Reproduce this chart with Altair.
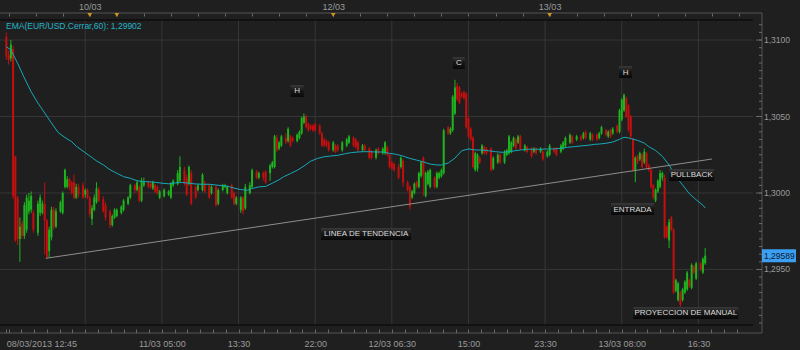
import altair as alt
import pandas as pd

# ---------------- data (EUR/USD, 15-minute slots; prices in pips above 1.2900) ----------------
BASE = 1.2900
PIP = 0.0001

slot = [0,1,2,3,4,5,6,7,8,9,10,11,12,14,15,16,17,18,19,20,
        21,22,24,25,26,27,28,29,30,31,32,34,35,36,37,38,39,40,41,43,
        44,46,47,48,49,51,52,54,55,57,58,59,60,61,63,64,65,66,67,68,
        70,72,73,74,76,77,79,80,81,82,84,85,87,88,90,91,93,94,96,97,
        98,100,101,102,104,105,106,108,109,111,112,114,115,117,118,119,120,121,122,124,
        125,126,127,129,130,131,132,133,134,135,136,137,139,140,141,142,143,145,146,147,
        149,151,152,154,155,156,158,159,161,162,164,165,167,168,169,170,171,172,174,175,
        176,178,179,180,181,182,183,184,185,186,187,188,190,191,192,193,194,196,197,198,
        199,200,201,202,203,204,205,206,207,208,209,210,211,212,213,215,216,218,219,221,
        222,223,224,225,226,227,228,230,231,233,234,235,237,238,240,241,243,244,246,247,
        248,250,251,253,255,256,257,259,260,262,263,264,266,267,268,269,271,272,273,274,
        275,276,277,278,279,280,281,282,283,284,285,286,287,288,289,290,291,292,293,294,
        295,296,297,298,299,300,301,302,303,304,305,306,308,309,310]

open_pips = [202,190,188,194,124,97,70,80,72,76,88,89,87,74,87,87,93,82,62,71,
             89,78,88,87,104,104,109,107,107,97,104,105,99,102,97,83,89,94,102,96,
             92,88,79,84,85,87,89,93,97,105,102,104,95,105,107,106,103,105,104,97,
             98,99,97,105,106,108,115,110,106,113,104,102,102,106,105,100,104,93,102,104,
             100,105,100,93,89,97,90,100,104,114,110,113,114,113,117,117,136,129,131,136,
             134,137,136,134,136,139,146,150,145,144,144,145,144,139,135,134,133,128,131,131,
             128,131,133,136,135,133,128,131,129,127,123,129,126,126,130,125,120,119,117,117,
             121,107,104,97,100,107,104,111,123,98,106,104,110,104,110,111,113,143,139,141,
             152,170,169,165,166,165,149,142,136,115,116,123,126,130,129,129,116,120,125,120,
             125,126,127,131,135,133,137,128,130,129,127,129,127,127,124,125,129,129,127,129,
             131,133,137,135,137,136,140,135,138,138,136,139,141,137,141,139,144,140,148,154,
             162,157,150,135,115,124,122,125,120,126,118,115,105,95,101,104,110,110,78,69,
             84,76,36,30,35,30,35,37,43,38,52,44,54,48,54]

high_pips = [205,193,200,196,124,98,84,82,94,99,100,101,89,95,99,95,107,83,78,91,
             91,90,95,101,116,111,110,108,112,106,106,107,103,103,98,92,99,107,104,98,
             94,89,86,90,90,92,96,98,106,106,108,105,110,110,108,107,108,106,105,102,
             103,102,107,109,115,124,117,112,118,115,105,106,113,108,106,105,105,103,106,106,
             105,106,101,98,98,98,106,107,116,115,114,114,115,119,121,138,138,134,138,139,
             143,138,137,139,141,150,152,151,146,145,145,146,145,140,136,135,134,134,132,132,
             134,136,138,137,136,134,132,132,130,128,129,130,130,134,131,126,121,120,119,124,
             122,108,105,102,107,108,114,121,124,114,115,116,111,114,114,116,142,144,143,164,
             174,172,170,166,167,166,150,143,137,127,126,124,132,131,130,130,124,126,126,128,
             129,138,134,137,136,138,138,132,131,130,130,130,130,128,128,132,130,130,132,134,
             137,139,138,138,138,140,141,140,139,139,140,144,142,141,142,143,145,155,162,165,
             163,158,151,136,124,125,127,126,129,127,119,116,106,103,109,115,114,112,79,83,
             85,77,44,42,36,38,43,49,44,54,53,55,55,58,64]

low_pips = [187,184,186,96,68,66,55,70,70,74,86,87,74,72,85,86,60,57,58,69,
            76,77,87,86,103,103,102,99,96,96,97,96,97,96,84,79,88,93,94,87,
            82,77,78,83,84,86,88,92,96,100,101,94,94,104,103,103,102,100,99,96,
            97,98,96,104,105,107,105,98,105,92,96,101,101,100,96,99,91,92,101,103,
            99,96,92,92,87,86,89,99,103,109,109,108,106,108,116,116,127,128,130,132,
            133,130,133,133,135,138,145,142,140,141,140,140,138,130,130,130,127,127,126,127,
            127,130,132,130,129,127,127,127,122,122,122,125,125,125,124,116,115,114,109,116,
            104,101,89,96,99,103,103,110,98,97,105,103,103,103,109,110,112,138,138,140,
            151,160,158,162,161,142,136,134,116,114,114,119,125,125,125,114,115,119,119,119,
            124,125,126,130,128,132,128,127,126,123,126,125,126,121,123,124,126,124,126,128,
            130,132,132,134,134,135,135,134,134,134,135,138,137,136,136,138,139,139,147,153,
            149,140,136,114,107,119,121,116,119,116,114,103,96,94,100,103,108,70,70,64,
            75,34,35,29,25,29,34,36,38,37,47,43,49,47,53]

close_pips = [189,187,197,98,69,70,78,72,92,97,95,98,76,93,97,93,82,58,76,89,
              78,88,94,100,115,109,104,100,97,104,99,97,102,97,86,90,97,103,95,88,
              84,79,85,89,89,91,95,97,105,102,107,95,108,107,104,104,107,101,100,101,
              102,101,106,108,113,117,106,99,117,93,97,105,112,101,97,104,92,102,105,105,
              104,97,93,97,97,88,104,105,115,110,113,110,107,118,120,137,128,133,137,133,
              142,131,134,138,140,149,150,143,141,142,141,141,139,131,131,131,128,133,127,128,
              133,135,137,131,130,128,131,128,123,123,128,126,129,133,125,117,116,115,110,123,
              107,102,91,101,106,104,113,120,112,113,114,115,104,113,113,115,141,139,142,163,
              169,161,159,163,162,143,137,135,117,126,125,120,131,126,126,115,123,125,120,127,
              128,137,133,136,129,137,129,131,127,124,129,126,129,122,127,131,127,125,131,133,
              136,138,133,137,135,139,136,139,135,135,139,143,138,140,137,142,140,154,161,164,
              150,141,137,115,123,120,126,117,127,117,115,104,97,102,108,113,113,71,71,81,
              76,35,43,41,27,37,42,48,39,53,48,54,50,57,59]

# EMA(60)
ema_slot = [0,2,5,8,11,14,17,20,23,26,29,31,34,37,40,43,46,49,52,55,58,61,64,66,69,72,75,78,81,84,
            87,90,93,96,99,101,104,107,109,112,115,118,121,123,126,129,132,135,138,141,144,147,150,153,156,158,
            161,164,167,170,173,176,179,182,185,188,191,193,196,199,202,205,208,211,214,217,220,223,226,228,
            231,234,237,240,243,246,249,252,255,258,261,263,266,269,272,274,276,280,283,285,288,291,294,297,
            300,303,306,309,310]
ema_pips = [195.6,193.5,184.8,175.2,166.2,158.8,152.3,145.8,139.5,136.3,133.5,130.6,127.4,124.2,121.0,118.4,115.2,112.9,110.7,109.6,
            108.0,107.4,107.3,107.0,106.4,106.0,106.6,106.9,106.4,105.9,105.7,105.7,105.2,104.8,104.1,103.2,102.2,101.8,102.9,104.0,
            104.3,106.4,108.7,110.6,112.7,114.8,117.6,120.8,122.6,123.7,124.2,124.6,125.6,126.4,126.8,127.0,127.0,126.8,126.8,125.9,
            125.3,124.1,122.6,121.5,120.3,118.9,118.3,118.3,119.6,122.8,127.6,128.8,128.1,128.1,127.6,127.0,126.6,127.0,127.7,128.1,
            128.6,128.6,128.6,128.8,128.8,129.2,129.9,130.3,130.8,131.2,131.8,132.0,132.5,133.3,135.1,136.4,136.0,134.4,132.6,130.3,
            127.8,124.0,118.3,110.7,105.2,99.5,95.6,92.0,90.2]
ema_last = 1.29902
last_price = 1.29589

# hand-drawn trend line
trend_slot = [17.5, 313.0]
trend_pips = [57.3, 122.2]

# time axis (bottom)
time_major_slot = [0, 35, 69, 103, 137, 171, 205, 239, 273, 307]
time_major_label = ["08/03/2013 12:45", "", "11/03 05:00", "13:30", "22:00", "12/03 06:30",
                    "15:00", "23:30", "13/03 08:00", "16:30"]
# day markers (top)
day_slot = [37, 49, 145, 241]
day_label = ["10/03", "", "12/03", "13/03"]
# price axis
price_levels = [1.2950, 1.3000, 1.3050, 1.3100]
price_minor = [round(1.2915 + 0.0005 * k, 4) for k in range(40)]

# annotations
annot_text = ["H", "C", "H", "LINEA DE TENDENCIA", "PULLBACK", "ENTRADA", "PROYECCION DE MANUAL"]
annot_slot = [129.0, 200.7, 274.7, 159.6, 304.0, 277.8, 301.4]
annot_price = [1.30667, 1.30850, 1.30791, 1.29732, 1.30118, 1.29895, 1.29216]

# ---------------- styles ----------------
BG = "#1f1f1f"
GRID = "#363636"
TICK = "#6a6a6a"
AXLINE = "#555555"
LABEL = "#9a9a9a"
GREEN = "#1fb41f"
RED = "#c30f0f"
EMA_C = "#17a9b8"
EMA_TXT = "#26b3c6"
TREND = "#8e8e8e"
GOLD = "#c8961e"
TAG = "#3c9ff2"
FONT = "Liberation Sans"
W, H = 753, 305
BOX_W = {"H": 13, "C": 12, "LINEA DE TENDENCIA": 90, "PULLBACK": 45, "ENTRADA": 43,
         "PROYECCION DE MANUAL": 105}


def to_price(p):
    return round(BASE + p * PIP, 5)


def comma(v, digits):
    return format(v, f".{digits}f").replace(".", ",")


candles = pd.DataFrame({
    "slot": slot,
    "open": [to_price(v) for v in open_pips],
    "high": [to_price(v) for v in high_pips],
    "low": [to_price(v) for v in low_pips],
    "close": [to_price(v) for v in close_pips],
})
candles["dir"] = ["up" if c >= o else "down" for o, c in zip(candles["open"], candles["close"])]

ema = pd.DataFrame({"slot": ema_slot, "price": [to_price(v) for v in ema_pips]})
trend = pd.DataFrame({"slot": trend_slot, "price": [to_price(v) for v in trend_pips]})

xs = alt.Scale(domain=[-0.6, 329.0], nice=False, zero=False)
ys = alt.Scale(domain=[1.29137, 1.31131], nice=False, zero=False)


def label_expr(values, labels):
    expr = "''"
    for v, lab in reversed(list(zip(values, labels))):
        expr = f"abs(datum.value - {v}) < 0.01 ? '{lab}' : {expr}"
    return expr


step = 34 / 6
bottom_vals = sorted(set([time_major_slot[0]] +
                         [round(35 + k * step, 3) for k in range(-6, 52)
                          if 0.5 <= 35 + k * step <= 328.5]))
top_vals = [1 + 12 * k for k in range(28)]

bottom_axis = alt.Axis(orient="bottom", values=bottom_vals,
                       labelExpr=label_expr(time_major_slot, time_major_label),
                       offset=4, tickSize=4, domain=False, grid=False, tickColor=TICK,
                       labelColor=LABEL, labelFont=FONT, labelFontSize=9, labelPadding=6,
                       labelOverlap=False,
                       labelAlign={"condition": {"test": "datum.value < 0.5", "value": "left"},
                                   "value": "center"})
top_axis = alt.Axis(orient="top", values=top_vals,
                    labelExpr=label_expr(day_slot, day_label),
                    offset=4, tickSize=3, domain=False, grid=False, tickColor=TICK,
                    labelColor=LABEL, labelFont=FONT, labelFontSize=9, labelPadding=2,
                    labelOverlap=False)


def X(axis=None):
    return alt.X("slot:Q", scale=xs, axis=axis, title=None)


def Y(field="price"):
    return alt.Y(f"{field}:Q", scale=ys, axis=None, title=None)


one = pd.DataFrame({"k": [0]})
layers = []

# grid
layers.append(alt.Chart(pd.DataFrame({"slot": time_major_slot[1:]})).mark_rule(
    color=GRID, strokeWidth=1).encode(x=X()))
layers.append(alt.Chart(pd.DataFrame({"price": price_levels})).mark_rule(
    color=GRID, strokeWidth=1).encode(y=Y()))

# panel borders and axis lines
layers.append(alt.Chart(one).mark_rule(color="#050505", strokeWidth=1.2).encode(
    x=alt.value(0), x2=alt.value(W), y=alt.value(0)))
layers.append(alt.Chart(one).mark_rule(color="#050505", strokeWidth=1.2).encode(
    x=alt.value(0), x2=alt.value(W), y=alt.value(H)))
layers.append(alt.Chart(one).mark_rule(color=AXLINE, strokeWidth=1).encode(
    x=alt.value(0), x2=alt.value(762), y=alt.value(-7)))
layers.append(alt.Chart(one).mark_rule(color=AXLINE, strokeWidth=1).encode(
    x=alt.value(0), x2=alt.value(762), y=alt.value(H + 8)))
layers.append(alt.Chart(one).mark_rule(color=AXLINE, strokeWidth=1).encode(
    x=alt.value(762), y=alt.value(-7), y2=alt.value(H + 8)))

# price axis: ticks and labels on the right
layers.append(alt.Chart(pd.DataFrame({"price": price_minor})).mark_rule(
    color=TICK, strokeWidth=1).encode(y=Y(), x=alt.value(759), x2=alt.value(762)))
layers.append(alt.Chart(pd.DataFrame({"price": price_levels})).mark_rule(
    color=TICK, strokeWidth=1).encode(y=Y(), x=alt.value(756), x2=alt.value(762)))
layers.append(alt.Chart(pd.DataFrame({"price": price_levels,
                                      "label": [comma(v, 4) for v in price_levels]})).mark_text(
    font=FONT, fontSize=8.5, color=LABEL, align="left", baseline="middle").encode(
    y=Y(), x=alt.value(764), text="label:N"))

color_enc = alt.Color("dir:N", scale=alt.Scale(domain=["up", "down"], range=[GREEN, RED]), legend=None)

# candles
layers.append(alt.Chart(candles).mark_rule(strokeWidth=1).encode(
    x=X(), y=Y("low"), y2="high:Q", color=color_enc))
layers.append(alt.Chart(candles).mark_bar(width=2).encode(
    x=X(bottom_axis), y=Y("open"), y2="close:Q", color=color_enc))

# EMA and trend line
layers.append(alt.Chart(ema).mark_line(color=EMA_C, strokeWidth=1).encode(x=X(), y=Y()))
layers.append(alt.Chart(trend).mark_line(color=TREND, strokeWidth=1).encode(x=X(), y=Y()))

# day markers with top axis
layers.append(alt.Chart(pd.DataFrame({"slot": day_slot})).mark_point(
    shape="triangle-down", filled=True, size=22, color=GOLD, opacity=1).encode(
    x=X(top_axis), y=alt.value(-5)))

# annotations
box_fill = alt.LinearGradient(
    gradient="linear",
    stops=[alt.GradientStop(color="#3a3a3a", offset=0),
           alt.GradientStop(color="#181818", offset=0.45),
           alt.GradientStop(color="#080808", offset=1)],
    x1=0, x2=0, y1=0, y2=1)
for txt, s, p in zip(annot_text, annot_slot, annot_price):
    d = pd.DataFrame({"slot": [s], "price": [p], "label": [txt]})
    layers.append(alt.Chart(d).mark_rect(width=BOX_W[txt], height=12, fill=box_fill).encode(
        x=X(), y=Y()))
    layers.append(alt.Chart(d).mark_text(font=FONT, fontSize=8, color="#dcdcdc", align="center",
                                         baseline="middle", dy=0.5).encode(
        x=X(), y=Y(), text="label:N"))

# EMA legend text
ema_text = "EMA(EUR/USD.Cerrar,60): " + comma(ema_last, 5)
layers.append(alt.Chart(pd.DataFrame({"t": [ema_text]})).mark_text(
    font=FONT, fontSize=8.5, color=EMA_TXT, align="left", baseline="middle").encode(
    x=alt.value(6), y=alt.value(6), text="t:N"))

# last price tag
tag = pd.DataFrame({"price": [last_price], "t": [comma(last_price, 5)]})
layers.append(alt.Chart(tag).mark_rect(height=13, fill=TAG).encode(
    y=Y(), x=alt.value(762), x2=alt.value(796)))
layers.append(alt.Chart(tag).mark_text(font=FONT, fontSize=8.5, color="#0a1a33", align="left",
                                       baseline="middle").encode(
    y=Y(), x=alt.value(764), text="t:N"))

chart = alt.layer(*layers).properties(
    width=W, height=H, background=BG,
    padding={"left": 0, "top": 20, "right": 47, "bottom": 25},
    autosize=alt.AutoSizeParams(type="none"),
).configure_view(stroke=None)

chart.save("out.html", embed_options={"renderer": "svg", "actions": False})
